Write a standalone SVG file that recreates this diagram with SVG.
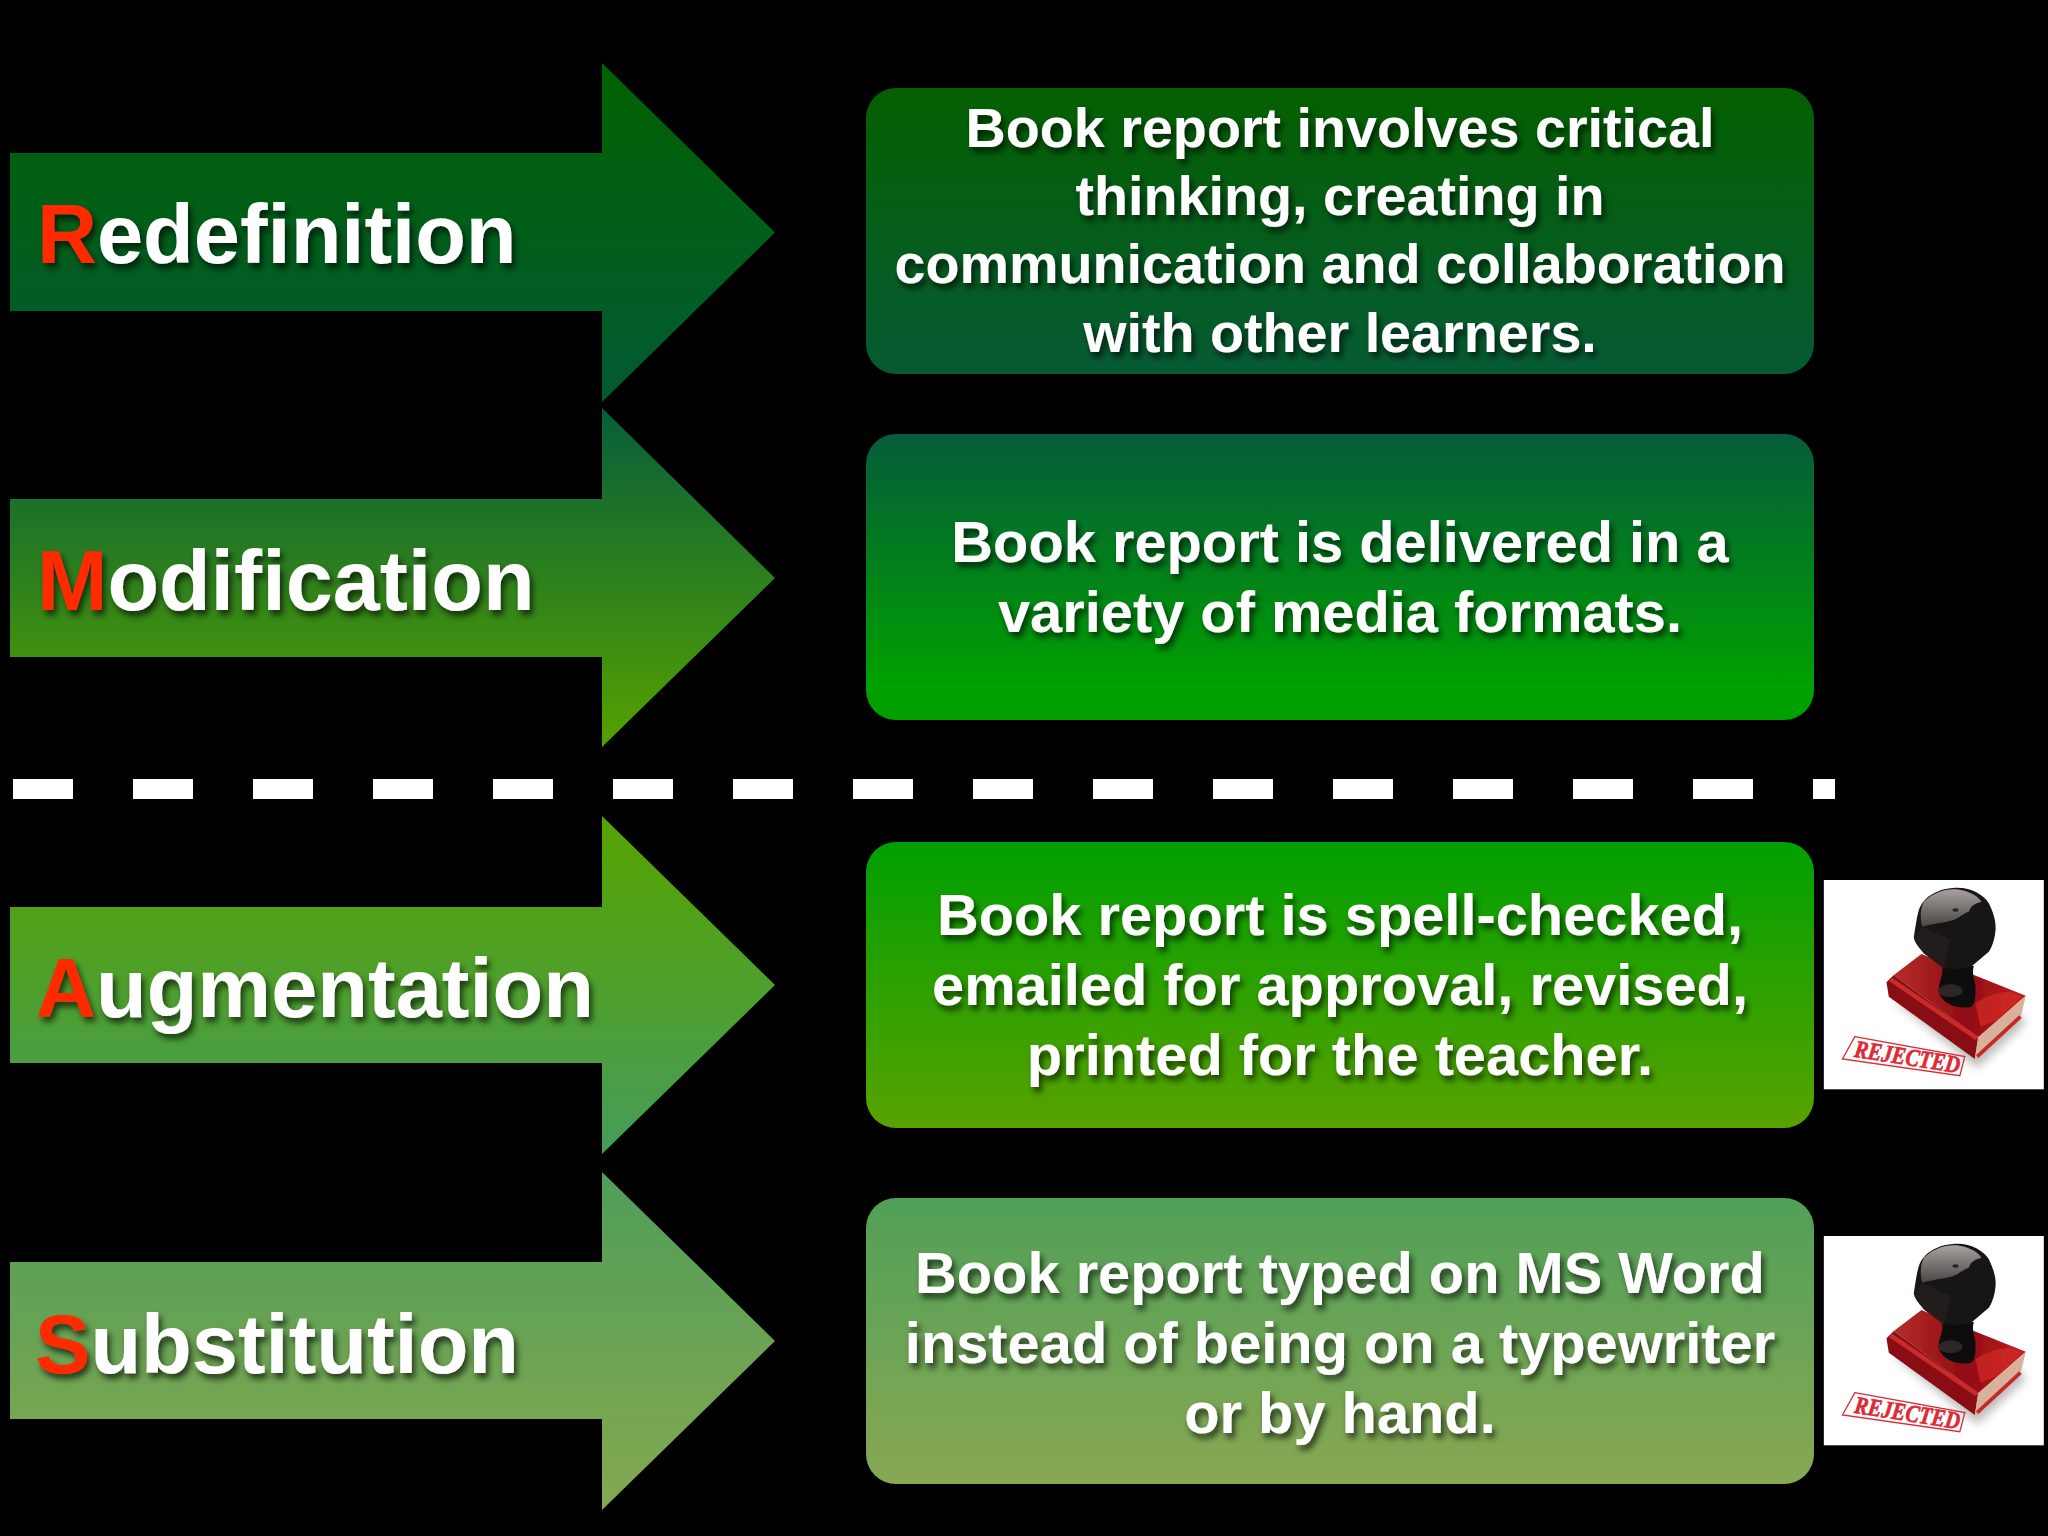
<svg xmlns="http://www.w3.org/2000/svg" width="2048" height="1536" viewBox="0 0 2048 1536">
<style>
.t{font-family:"Liberation Sans",Arial,sans-serif;font-weight:700;fill:#fff;filter:url(#sh)}
.h{font-size:83px}
.b{font-size:57.8px;text-anchor:middle}
.b1{font-size:55.7px}
.r{fill:#ff2a00}
.rej{font-family:"Liberation Serif","Times New Roman",serif;font-weight:700;font-style:italic;font-size:74px;fill:#dc2b36;stroke:#dc2b36;stroke-width:2px}
</style>
<defs>
<filter id="sh" x="-5%" y="-30%" width="110%" height="170%"><feDropShadow dx="3" dy="5" stdDeviation="3" flood-color="#000" flood-opacity=".65"/></filter>
<filter id="bl" x="-20%" y="-20%" width="140%" height="140%"><feGaussianBlur stdDeviation="14"/></filter>
<filter id="soft" x="-5%" y="-5%" width="110%" height="110%"><feGaussianBlur stdDeviation="1.5"/></filter>
<linearGradient id="a1" x1="0" y1="0" x2="0" y2="1"><stop offset="0" stop-color="#006200"/><stop offset="1" stop-color="#025a34"/></linearGradient>
<linearGradient id="a2" x1="0" y1="0" x2="0" y2="1"><stop offset="0" stop-color="#065e3a"/><stop offset="1" stop-color="#55a200"/></linearGradient>
<linearGradient id="a3" x1="0" y1="0" x2="0" y2="1"><stop offset="0" stop-color="#55a300"/><stop offset="1" stop-color="#479c58"/></linearGradient>
<linearGradient id="a4" x1="0" y1="0" x2="0" y2="1"><stop offset="0" stop-color="#4f9e58"/><stop offset="1" stop-color="#85a850"/></linearGradient>
<linearGradient id="b1" x1="0" y1="0" x2="0" y2="1"><stop offset="0" stop-color="#046000"/><stop offset="1" stop-color="#065a34"/></linearGradient>
<linearGradient id="b2" x1="0" y1="0" x2="0" y2="1"><stop offset="0" stop-color="#055c3a"/><stop offset=".88" stop-color="#00a000"/><stop offset="1" stop-color="#00a000"/></linearGradient>
<linearGradient id="b3" x1="0" y1="0" x2="0" y2="1"><stop offset="0" stop-color="#00a000"/><stop offset="1" stop-color="#58a200"/></linearGradient>
<linearGradient id="b4" x1="0" y1="0" x2="0" y2="1"><stop offset="0" stop-color="#50a058"/><stop offset="1" stop-color="#88a853"/></linearGradient>
<linearGradient id="shine" x1="0" y1="0" x2="0" y2="1"><stop offset="0" stop-color="#a8a3a0"/><stop offset="1" stop-color="#4a4543"/></linearGradient>
<linearGradient id="top" x1="0" y1="0" x2="1" y2="0"><stop offset="0" stop-color="#b62c2a"/><stop offset=".55" stop-color="#8f0c12"/><stop offset="1" stop-color="#c42020"/></linearGradient>
<g id="stampBody">
<rect x="130" y="60" width="660" height="628" fill="#fff"/>
<path d="M340 420L590 625L735 490L700 440Z" fill="#8f8f8f" opacity=".6" filter="url(#bl)"/>
<g filter="url(#soft)">
<path d="M423 282L736 407L593 532L340 345Z" fill="url(#top)"/>
<path d="M318 367L340 345L593 532L583 597L325 410Z" fill="#8a0d12"/>
<path d="M330 358L590 535" stroke="#c92a2a" stroke-width="14" fill="none"/>
<path d="M593 532L736 407L722 465L590 597L583 597Z" fill="#d8b09c"/>
<path d="M590 590L720 470" stroke="#c42a24" stroke-width="11" fill="none"/>
<path d="M585 430C620 405 660 395 690 395L725 410L650 480L600 500Z" fill="#cf2a24" opacity=".75"/>
<path d="M485 318L580 318C572 345 585 360 585 385C585 415 585 430 572 440C530 450 490 430 478 405C465 380 492 350 485 318Z" fill="#100b0b"/>
<ellipse cx="510" cy="392" rx="36" ry="19" fill="#2e2827"/>
<path d="M518 84C570 80 610 105 625 130C640 160 648 190 645 212C642 240 635 260 625 275L572 320C540 328 515 328 490 325L430 280C415 262 402 248 400 232C404 205 408 175 415 150C422 130 435 115 448 107C470 92 495 85 518 84Z" fill="#181413"/>
<path d="M430 125C460 95 500 85 530 88C560 92 590 105 603 125C585 130 572 135 565 155C545 160 535 178 510 182C490 188 450 192 425 200C418 170 420 145 430 125Z" fill="url(#shine)"/>
<ellipse cx="525" cy="150" rx="9" ry="5" fill="#222"/>
<path d="M400 232L425 200L510 240L490 325L430 280Z" fill="#211d1c"/>
</g>
<path d="M223 530L553 590L538 647L186 597Z" fill="none" stroke="#dc2b36" stroke-width="4"/>
</g>
</defs>
<rect width="2048" height="1536" fill="#000"/>
<g id="node-redefinition">
<path d="M10 153H602V63L775 232.5L602 402V311H10Z" fill="url(#a1)"/>
<text class="t h" x="37" y="263"><tspan class="r">R</tspan>edefinition</text>
</g>
<g id="node-modification">
<path d="M10 499H602V408L775 578L602 747V657H10Z" fill="url(#a2)"/>
<text class="t h" style="font-size:84.5px" x="37" y="610"><tspan class="r">M</tspan>odification</text>
</g>
<g id="node-augmentation">
<path d="M10 907H602V816L775 985L602 1154V1063H10Z" fill="url(#a3)"/>
<text class="t h" x="36" y="1017"><tspan class="r">A</tspan>ugmentation</text>
</g>
<g id="node-substitution">
<path d="M10 1262H602V1172L775 1341L602 1510V1419H10Z" fill="url(#a4)"/>
<text class="t h" x="35" y="1373"><tspan class="r">S</tspan>ubstitution</text>
</g>
<g id="box-redefinition">
<rect x="866" y="88" width="948" height="286" rx="30" fill="url(#b1)"/>
<text class="t b b1" x="1340" y="147">Book report involves critical</text>
<text class="t b b1" x="1340" y="215">thinking, creating in</text>
<text class="t b b1" x="1340" y="283">communication and collaboration</text>
<text class="t b b1" x="1340" y="352">with other learners.</text>
</g>
<g id="box-modification">
<rect x="866" y="434" width="948" height="286" rx="30" fill="url(#b2)"/>
<text class="t b" x="1340" y="562">Book report is delivered in a</text>
<text class="t b" x="1340" y="632">variety of media formats.</text>
</g>
<g id="box-augmentation">
<rect x="866" y="842" width="948" height="286" rx="30" fill="url(#b3)"/>
<text class="t b" x="1340" y="935">Book report is spell-checked,</text>
<text class="t b" x="1340" y="1005">emailed for approval, revised,</text>
<text class="t b" x="1340" y="1075">printed for the teacher.</text>
</g>
<g id="box-substitution">
<rect x="866" y="1198" width="948" height="286" rx="30" fill="url(#b4)"/>
<text class="t b" x="1340" y="1293">Book report typed on MS Word</text>
<text class="t b" x="1340" y="1363">instead of being on a typewriter</text>
<text class="t b" x="1340" y="1433">or by hand.</text>
</g>
<g id="connectors">
<line x1="13" y1="789" x2="1835" y2="789" stroke="#fff" stroke-width="20" stroke-dasharray="60 60"/>
</g>
<g id="stamp-1" transform="translate(1780.5,860) scale(.3333)">
<use href="#stampBody"/>
<text class="rej" transform="translate(219,590) rotate(9)" textLength="320" lengthAdjust="spacingAndGlyphs">REJECTED</text>
</g>
<g id="stamp-2" transform="translate(1780.5,1216) scale(.3333)">
<use href="#stampBody"/>
<text class="rej" transform="translate(219,590) rotate(9)" textLength="320" lengthAdjust="spacingAndGlyphs">REJECTED</text>
</g>
</svg>
